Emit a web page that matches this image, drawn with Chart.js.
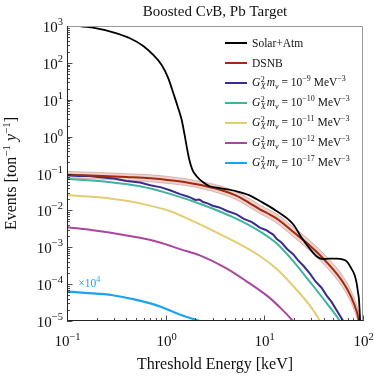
<!DOCTYPE html>
<html>
<head>
<meta charset="utf-8">
<script src="https://cdn.jsdelivr.net/npm/chart.js@4.4.1/dist/chart.umd.min.js"></script>
<style>
  body { margin: 0; background: #fff; }
  #wrap { position: relative; width: 374px; height: 377px; }
  #legend { position: absolute; left: 225px; top: 33px; font: 11.5px 'Liberation Serif', serif; color: #111; }
  .row { display: flex; align-items: center; height: 20px; white-space: nowrap; }
  .sw { width: 22px; height: 2px; margin-right: 5px; }
  .ss { display: inline-flex; flex-direction: column; font-size: 8px; line-height: 7.5px; vertical-align: middle; margin: 0 1px 0 0.5px; }
  sup, sub { font-size: 8px; line-height: 0; }
</style>
</head>
<body>
<div id="wrap">
  <canvas id="c" width="374" height="377"></canvas>
  <div id="legend"></div>
</div>
<script>
// tick decades
const xTicks = [0.1, 1, 10, 100];
const yTicks = [1e-5, 1e-4, 1e-3, 1e-2, 1e-1, 1, 10, 100, 1000];

// Solar + atmospheric background
const solarX = [0.1, 0.135, 0.2, 0.294, 0.434, 0.593, 0.748, 0.911, 1.062, 1.194, 1.323, 1.452, 1.543, 1.632, 1.734, 1.862, 2.06, 2.4, 2.81, 3.55, 5.24, 7, 9, 13.3, 19.6, 23.9, 29, 33.6, 36.6, 40, 45, 54, 62, 68, 76.6, 82, 86, 89, 91, 93.5, 96];
const solarY = [1150, 1000, 866, 676, 466, 288, 164, 88, 38.6, 15.2, 6.6, 2.88, 1.26, 0.547, 0.239, 0.128, 0.0845, 0.058, 0.045, 0.04, 0.033, 0.026, 0.018, 0.0096, 0.0042, 0.0018, 0.0009, 0.00058, 0.0005, 0.00048, 0.00049, 0.00049, 0.00047, 0.00042, 0.00026, 0.00018, 0.00011, 0.00006, 0.000039, 0.00001, 0.000003];

// DSNB with uncertainty band
const dsnbX  = [0.1, 0.2, 0.4, 0.7, 1.1, 1.6, 2.4, 3.5, 5.2, 7, 9, 11.5, 14, 20, 29, 43, 63, 80, 91, 96];
const dsnbY  = [0.093, 0.087, 0.08, 0.074, 0.066, 0.058, 0.047, 0.037, 0.025, 0.016, 0.0107, 0.0076, 0.0055, 0.0025, 0.0011, 0.00039, 0.00011, 0.000032, 0.00001, 0.000003];
const dsnbHi = [0.114, 0.107, 0.099, 0.092, 0.082, 0.072, 0.059, 0.047, 0.032, 0.021, 0.014, 0.01, 0.0073, 0.0034, 0.00152, 0.00055, 0.00016, 0.000047, 0.000015, 0.0000045];
const dsnbLo = [0.076, 0.071, 0.065, 0.06, 0.053, 0.047, 0.038, 0.029, 0.0195, 0.0123, 0.0082, 0.0058, 0.0041, 0.00185, 0.0008, 0.00028, 0.000077, 0.000022, 0.0000068, 0.000002];

// boosted CvB, G_X^2 m_nu = 1e-9 (noisy Monte Carlo curve)
const g9X = [0.1, 0.13, 0.17, 0.22, 0.3, 0.4, 0.55, 0.7, 0.9, 1.107, 1.4, 1.7, 2.0, 2.2, 2.4, 2.7, 3.0, 3.5, 4.2, 5.24, 6.2, 7.5, 9, 10.5, 11.4, 12.3, 13.3, 15, 17, 19.6, 22, 25, 29, 33, 38, 42.8, 48, 55, 63, 68];
const g9Y = [0.089, 0.085, 0.086, 0.079, 0.073, 0.063, 0.057, 0.048, 0.042, 0.035, 0.0275, 0.0235, 0.0192, 0.0196, 0.0168, 0.0153, 0.0134, 0.012, 0.0096, 0.0078, 0.0059, 0.0048, 0.0034, 0.0029, 0.0025, 0.0022, 0.0017, 0.00132, 0.0009, 0.00065, 0.00044, 0.00031, 0.000192, 0.000118, 0.00008, 0.000049, 0.000033, 0.000018, 0.00001, 0.000006];
// 1e-10
const g10X = [0.1, 0.25, 0.55, 1.107, 2.4, 5.24, 9, 13.3, 19.6, 29, 42.8, 58, 66];
const g10Y = [0.072, 0.06, 0.045, 0.028, 0.014, 0.0059, 0.0027, 0.00128, 0.00042, 0.000115, 0.0000305, 0.00001, 0.000005];
// 1e-11
const g11X = [0.1, 0.25, 0.55, 1.1, 1.89, 2.4, 3.5, 5.24, 9, 13.3, 19.6, 29, 36.6, 42];
const g11Y = [0.026, 0.0216, 0.0155, 0.0096, 0.0051, 0.0038, 0.0023, 0.00135, 0.00058, 0.00026, 0.000089, 0.000026, 0.00001, 0.0000045];
// 1e-12
const g12X = [0.1, 0.2, 0.55, 0.875, 1.4, 2.22, 4, 6.5, 10.7, 15, 19.5, 24];
const g12Y = [0.0035, 0.0028, 0.0018, 0.00135, 0.00089, 0.0006, 0.00028, 0.000123, 0.000048, 0.000021, 0.00001, 0.000005];
// 1e-17 (shown x1e4)
const g17X = [0.1, 0.15, 0.29, 0.49, 0.7, 0.92, 1.35, 1.7, 2.2, 2.6];
const g17Y = [0.000063, 0.000058, 0.00005, 0.000038, 0.00003, 0.0000235, 0.0000155, 0.0000125, 0.00001, 0.000008];

const pts = (xs, ys) => xs.map((x, i) => ({ x, y: ys[i] }));

function logTicks(decades) {
  const out = [];
  decades.forEach((d, i) => {
    out.push({ value: d, major: true });
    if (i < decades.length - 1) for (let k = 2; k <= 9; k++) out.push({ value: d * k, major: false });
  });
  return out;
}

const serif = "'Liberation Serif', serif";
const line = (data, color, w, extra) => Object.assign({
  data, borderColor: color, borderWidth: w, pointRadius: 0, fill: false,
  cubicInterpolationMode: 'monotone'
}, extra || {});

// first dataset is drawn on top
const datasets = [
  line(pts(solarX, solarY), '#000000', 1.8),
  line(pts(dsnbX, dsnbY), '#a3290f', 2),
  line(pts(g9X, g9Y), '#3a2c8e', 2, { cubicInterpolationMode: 'default', tension: 0 }),
  line(pts(g10X, g10Y), '#3fb39e', 2),
  line(pts(g11X, g11Y), '#e3cd72', 2),
  line(pts(g12X, g12Y), '#a9479f', 2),
  line(pts(g17X, g17Y), '#1aa3f4', 2.2),
  line(pts(dsnbX, dsnbHi), 'rgba(190,110,100,0.45)', 1, { fill: '+1', backgroundColor: 'rgba(200,130,120,0.35)' }),
  line(pts(dsnbX, dsnbLo), 'rgba(190,110,100,0.45)', 1)
];

const legendLabels = [
  'Solar+Atm',
  'DSNB',
  ...['−9', '−10', '−11', '−12', '−17'].map(e =>
    '<i>G</i><span class="ss"><span>2</span><i>X</i></span><i>m</i><sub><i>ν</i></sub> = 10<sup>' + e + '</sup> MeV<sup>−3</sup>')
];

// draw text pieces with superscripts; parts: [text, size, {sup, italic}]
function rich(ctx, parts, x, y, align, color) {
  const fonts = parts.map(p => (p[2] && p[2].italic ? 'italic ' : '') + p[1] + 'px ' + serif);
  const widths = parts.map((p, i) => { ctx.font = fonts[i]; return ctx.measureText(p[0]).width; });
  const total = widths.reduce((s, w) => s + w, 0);
  let cx = align === 'right' ? x - total : align === 'center' ? x - total / 2 : x;
  ctx.fillStyle = color;
  ctx.textAlign = 'left';
  ctx.textBaseline = 'alphabetic';
  parts.forEach((p, i) => {
    ctx.font = fonts[i];
    ctx.fillText(p[0], cx, p[2] && p[2].sup ? y - p[2].sup : y);
    cx += widths[i];
  });
}
const expOf = v => String(Math.round(Math.log10(v))).replace('-', '−');

const decor = {
  id: 'decor',
  afterDraw(chart) {
    const { ctx, chartArea: a, scales: { x, y } } = chart;
    ctx.save();
    ctx.lineWidth = 0.8;
    ctx.strokeStyle = '#222';
    x.ticks.forEach(t => {
      const px = Math.round(x.getPixelForValue(t.value)) + 0.5;
      const len = t.major ? 5.5 : 3;
      ctx.beginPath(); ctx.moveTo(px, a.bottom); ctx.lineTo(px, a.bottom - len); ctx.stroke();
      if (t.major) rich(ctx, [['10', 15], [expOf(t.value), 10.5, { sup: 6.5 }]], px, a.bottom + 25, 'center', '#111');
    });
    y.ticks.forEach(t => {
      const py = Math.round(y.getPixelForValue(t.value)) + 0.5;
      const len = t.major ? 5.5 : 3;
      ctx.beginPath(); ctx.moveTo(a.left, py); ctx.lineTo(a.left + len, py); ctx.stroke();
      if (t.major) rich(ctx, [['10', 15], [expOf(t.value), 10.5, { sup: 6.5 }]], a.left - 4, py + 5, 'right', '#111');
    });
    // frame
    ctx.lineWidth = 1;
    ctx.strokeStyle = '#9a9a9a';
    ctx.beginPath();
    ctx.moveTo(a.left, a.top + 0.5); ctx.lineTo(a.right - 0.5, a.top + 0.5); ctx.lineTo(a.right - 0.5, a.bottom);
    ctx.stroke();
    ctx.strokeStyle = '#222';
    ctx.beginPath();
    ctx.moveTo(a.left + 0.5, a.top); ctx.lineTo(a.left + 0.5, a.bottom - 0.5); ctx.lineTo(a.right, a.bottom - 0.5);
    ctx.stroke();
    // chart title, centred over the plot area
    rich(ctx, [['Boosted C', 15], ['ν', 15, { italic: true }], ['B, Pb Target', 15]], (a.left + a.right) / 2, 15.5, 'center', '#111');
    // y axis title
    ctx.save();
    ctx.translate(11, (a.top + a.bottom) / 2);
    ctx.rotate(-Math.PI / 2);
    rich(ctx, [['Events [ton', 16], ['−1', 11, { sup: 6 }], [' ', 16], ['y', 16, { italic: true }], ['−1', 11, { sup: 6 }], [']', 16]], 0, 5, 'center', '#111');
    ctx.restore();
    // x10^4 note for the 1e-17 curve
    rich(ctx, [['×10', 11.5], ['4', 8, { sup: 4.5 }]], x.getPixelForValue(0.13), y.getPixelForValue(1.1e-4) + 4, 'left', '#1aa3f4');
    ctx.restore();
  }
};

const chart = new Chart(document.getElementById('c'), {
  type: 'line',
  data: { datasets },
  options: {
    responsive: false,
    animation: false,
    devicePixelRatio: 1,
    layout: { padding: { left: 0, right: 11, top: 26, bottom: 0 } },
    plugins: {
      legend: { display: false },
      tooltip: { enabled: false },
      title: { display: false }
    },
    scales: {
      x: {
        type: 'logarithmic',
        min: 0.1, max: 100,
        grid: { display: false },
        border: { display: false },
        afterBuildTicks: s => { s.ticks = logTicks(xTicks); },
        afterFit: s => { s.height = 56; },
        ticks: { display: false, autoSkip: false },
        title: {
          display: true, text: 'Threshold Energy [keV]', color: '#111',
          font: { family: serif, size: 16 }, padding: { top: 0, bottom: 3 }
        }
      },
      y: {
        type: 'logarithmic',
        min: 1e-5, max: 1e3,
        grid: { display: false },
        border: { display: false },
        afterBuildTicks: s => { s.ticks = logTicks(yTicks); },
        afterFit: s => { s.width = 67; },
        ticks: { display: false, autoSkip: false }
      }
    }
  },
  plugins: [decor]
});

// html legend built from the datasets
const leg = document.getElementById('legend');
legendLabels.forEach((html, i) => {
  const row = document.createElement('div');
  row.className = 'row';
  row.innerHTML = '<span class="sw" style="background:' + datasets[i].borderColor + '"></span><span>' + html + '</span>';
  leg.appendChild(row);
});
</script>
</body>
</html>
